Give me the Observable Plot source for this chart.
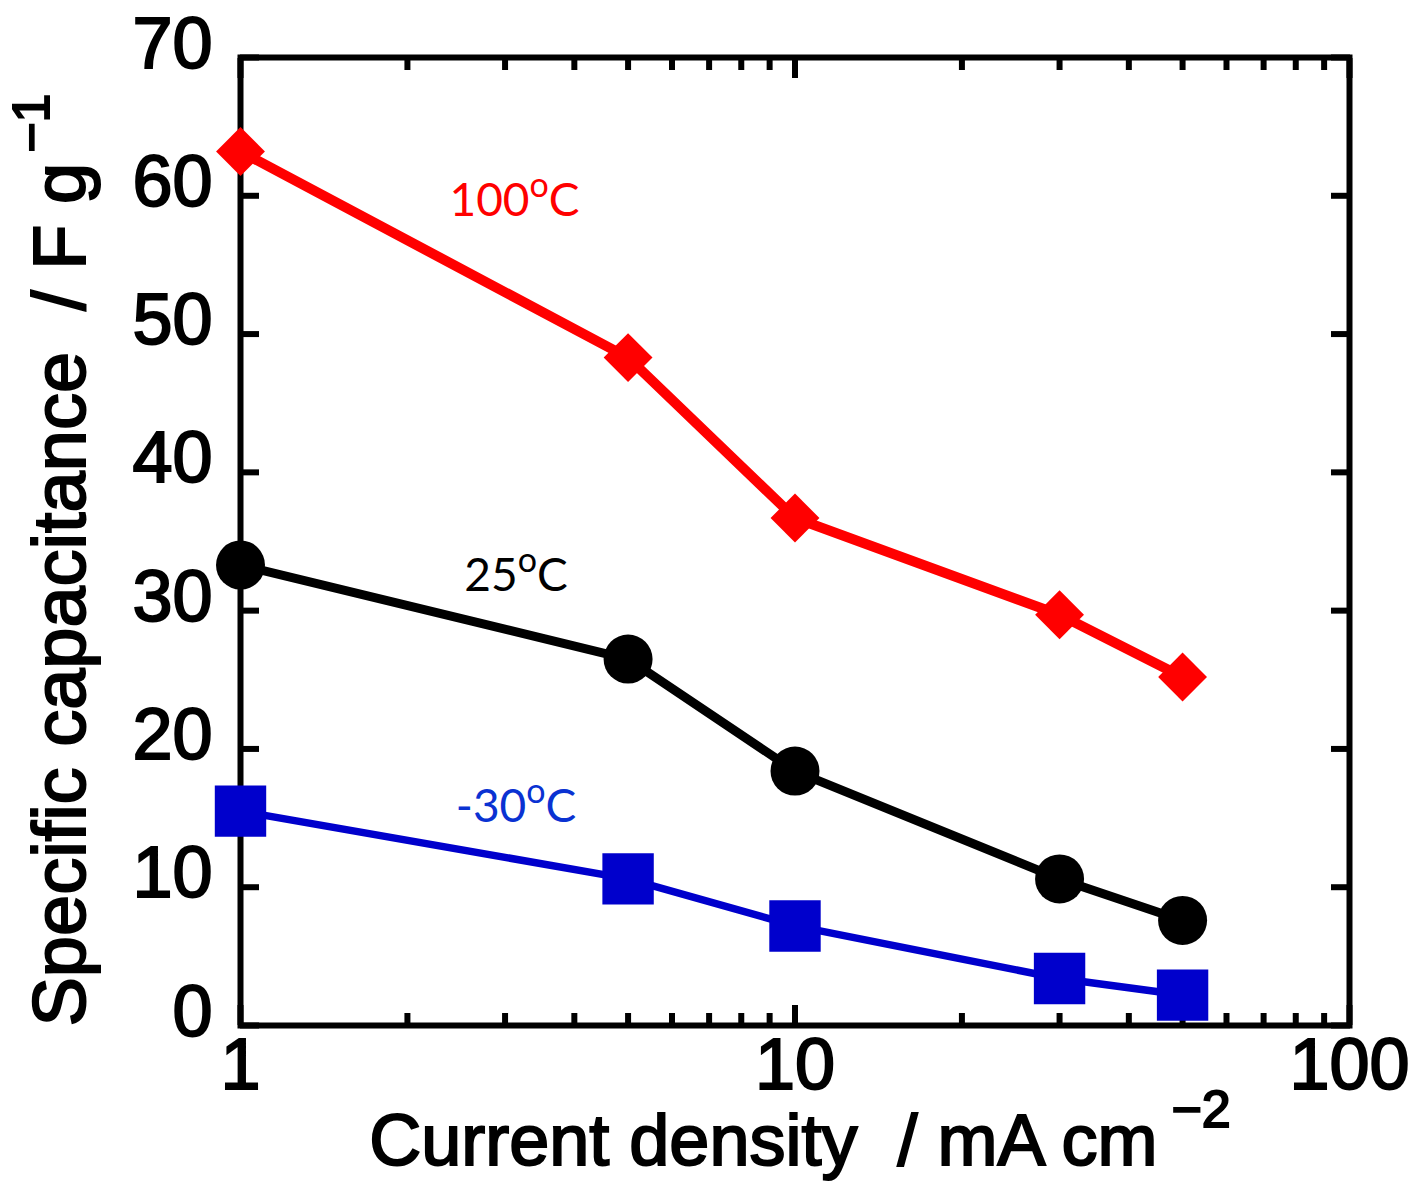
<!DOCTYPE html>
<html><head><meta charset="utf-8">
<script src="https://cdn.jsdelivr.net/npm/d3@7"></script>
<script src="https://cdn.jsdelivr.net/npm/@observablehq/plot@0.6"></script>
<style>body{margin:0;background:#fff} svg{display:block}</style>
</head><body><div id="chart"></div>
<script>
// ---- data ----
const currentDensity = [1, 5, 10, 30, 50];
const cap100C = [63.2, 48.3, 36.7, 29.7, 25.2];
const cap25C = [33.3, 26.5, 18.4, 10.6, 7.6];
const capMinus30C = [15.5, 10.6, 7.2, 3.4, 2.2];
const tempLabels = ["100", "25", "-30"];
const tempLabelX = [3.12, 3.14, 3.14];
const tempLabelY = [59.6, 32.5, 15.8];
const yTicks = [0, 10, 20, 30, 40, 50, 60, 70];
const xMajorTicks = [1, 10, 100];
const xMinorTicks = [2, 3, 4, 5, 6, 7, 8, 9, 20, 30, 40, 50, 60, 70, 80, 90];
const xTitle = "Current density\u00a0\u00a0/ mA cm";
const xTitleSup = "\u22122";
const yTitle = "Specific capacitance\u00a0\u00a0/ F g";
const yTitleSup = "\u22121";

// ---- styles ----
const series = [
  {values: cap100C, color: "#ff0000", symbol: "diamond2", r: 22, lw: 10, label: "#ff0000"},
  {values: cap25C, color: "#000000", symbol: "circle", r: 24.5, lw: 9, label: "#000000"},
  {values: capMinus30C, color: "#0000cc", symbol: "square", r: 29, lw: 7.5, label: "#0a32d2"}
];
const tickFont = "'Liberation Sans', Arial, sans-serif";
const titleFont = "'Liberation Sans', Arial, sans-serif";

const marks = [
  Plot.frame({stroke: "black", strokeWidth: 6}),
  Plot.axisY(yTicks, {anchor: "left", tickSize: -19, strokeWidth: 6, fill: "none", label: null}),
  Plot.axisY(yTicks, {anchor: "right", tickSize: -19, strokeWidth: 6, fill: "none", label: null}),
  Plot.axisY(yTicks, {anchor: "left", tickSize: 0, tickPadding: 28, fontSize: 72, dy: -13, label: null, fontFamily: tickFont}),
  Plot.axisX(xMajorTicks, {anchor: "bottom", tickSize: -20, strokeWidth: 6, fill: "none", label: null}),
  Plot.axisX(xMajorTicks, {anchor: "top", tickSize: -20, strokeWidth: 6, fill: "none", label: null}),
  Plot.axisX(xMinorTicks, {anchor: "bottom", tickSize: -12, strokeWidth: 6, fill: "none", label: null}),
  Plot.axisX(xMinorTicks, {anchor: "top", tickSize: -12, strokeWidth: 6, fill: "none", label: null}),
  Plot.axisX(xMajorTicks, {anchor: "bottom", tickSize: 0, tickPadding: 12, fontSize: 72, label: null, fontFamily: tickFont, tickFormat: d => String(d)})
];
series.forEach((s, k) => {
  marks.push(Plot.line(currentDensity, {x: d => d, y: (d, i) => s.values[i], stroke: s.color, strokeWidth: s.lw}));
  marks.push(Plot.dot(currentDensity, {x: d => d, y: (d, i) => s.values[i], symbol: s.symbol, r: s.r, fill: s.color, stroke: "none"}));
  marks.push(Plot.text([tempLabels[k]], {x: () => tempLabelX[k], y: () => tempLabelY[k], text: d => d, fill: s.label, fontSize: 46, fontFamily: "Lato, 'Open Sans', sans-serif"}));
});

const svg = Plot.plot({
  width: 1413, height: 1182,
  marginLeft: 240, marginRight: 64, marginTop: 57, marginBottom: 157,
  x: {type: "log", domain: [1, 100]},
  y: {domain: [0, 70]},
  style: {background: "white", color: "black", overflow: "visible"},
  marks
});

const root = d3.select(svg);
root.selectAll('g[aria-label="text"] text').each(function() {
  const num = this.textContent;
  if (!tempLabels.includes(num)) return;
  const t = d3.select(this);
  t.text(null);
  t.append("tspan").text(num);
  t.append("tspan").attr("font-size", 34).attr("dy", -19).text("o");
  t.append("tspan").attr("dy", 19).text("C");
});
root.selectAll('g[aria-label="y-axis tick label"], g[aria-label="x-axis tick label"]')
  .attr("stroke", "black").attr("stroke-width", 2);

// axis titles
const xt = root.append("text")
  .attr("x", 800).attr("y", 1165)
  .attr("text-anchor", "middle")
  .attr("font-family", titleFont).attr("font-size", 72)
  .attr("fill", "black").attr("stroke", "black").attr("stroke-width", 2);
xt.append("tspan").text(xTitle);
xt.append("tspan").attr("font-size", 52).attr("dx", 14).attr("dy", -38).text(xTitleSup);

const yt = root.append("text")
  .attr("transform", "translate(85,560) rotate(-90)")
  .attr("text-anchor", "middle")
  .attr("font-family", titleFont).attr("font-size", 74)
  .attr("fill", "black").attr("stroke", "black").attr("stroke-width", 2);
yt.append("tspan").text(yTitle);
yt.append("tspan").attr("font-size", 52).attr("dx", 10).attr("dy", -36).text(yTitleSup);

document.getElementById("chart").appendChild(svg);
</script>
</body></html>
